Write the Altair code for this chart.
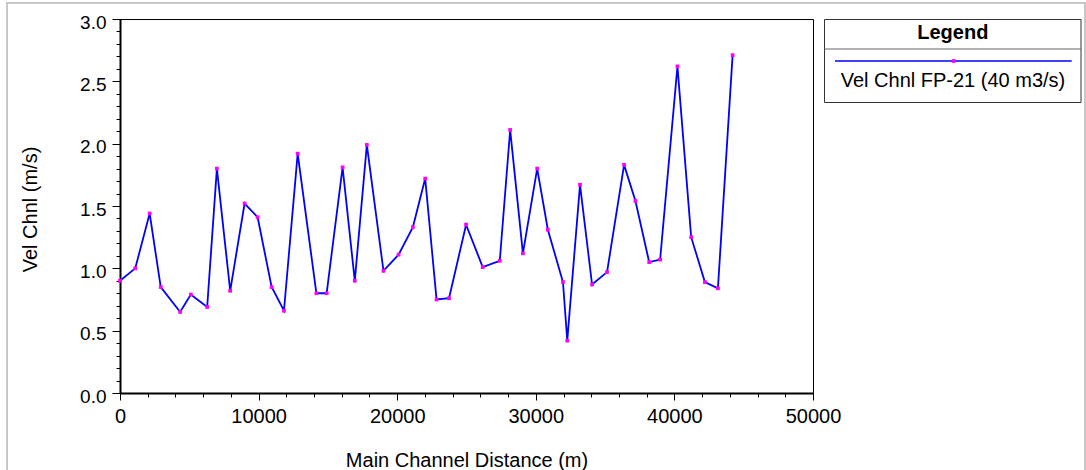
import altair as alt
import pandas as pd

# ---- data ----
distance = [0, 1100, 2140, 2940, 4340, 5110, 6290, 6990, 7950, 8990,
            9930, 10940, 11830, 12820, 14170, 14910, 16060, 16940, 17810, 19010,
            20100, 21130, 22020, 22840, 23740, 24970, 26170, 27400, 28150, 29070,
            30100, 30870, 31960, 32270, 33190, 34060, 35140, 36370, 37190, 38180,
            38970, 40220, 41210, 42200, 43140, 44200]
velocity = [0.90, 1.00, 1.44, 0.85, 0.65, 0.79, 0.69, 1.80, 0.82, 1.52,
            1.41, 0.85, 0.66, 1.92, 0.80, 0.80, 1.81, 0.90, 1.99, 0.98,
            1.11, 1.33, 1.72, 0.75, 0.76, 1.35, 1.01, 1.06, 2.11, 1.12,
            1.80, 1.31, 0.89, 0.42, 1.67, 0.87, 0.97, 1.83, 1.54, 1.05,
            1.07, 2.62, 1.25, 0.89, 0.84, 2.71]
series_name = "Vel Chnl FP-21 (40 m3/s)"
legend_title = "Legend"
x_title = "Main Channel Distance (m)"
y_title = "Vel Chnl (m/s)"
x_ticks = list(range(0, 50001, 2000))
y_ticks = [round(i * 0.1, 1) for i in range(31)]

FONT = "Liberation Sans"
W, H = 693, 374

df = pd.DataFrame({"distance": distance, "velocity": velocity})
leg = pd.DataFrame({"label": [series_name], "title": [legend_title]})

x_scale = alt.Scale(domain=[0, 50000], nice=False, zero=False)
y_scale = alt.Scale(domain=[0, 3], nice=False)

x_axis = alt.Axis(
    title=x_title, values=x_ticks, tickCount=500, grid=False,
    labelExpr="datum.value % 10000 == 0 ? format(datum.value, 'd') : ''",
    tickSize={"condition": {"test": "datum.value % 10000 == 0", "value": 7}, "value": 4},
    labelOverlap=False, labelFlush=False, labelFont=FONT, labelFontSize=20,
    labelColor="black", labelPadding=6,
    domainColor="black", domainWidth=2, tickColor="black", tickWidth=1,
    titleFont=FONT, titleFontSize=20, titleFontWeight="normal", titleColor="black",
    titleX=W / 2, titleY=73, titleAlign="center", titleBaseline="alphabetic",
)
y_axis = alt.Axis(
    title=y_title, values=y_ticks, tickCount=500, grid=False,
    labelExpr="abs(datum.value * 2 - round(datum.value * 2)) < 0.001 ? format(datum.value, '.1f') : ''",
    tickSize={"condition": {"test": "abs(datum.value * 2 - round(datum.value * 2)) < 0.001", "value": 8}, "value": 4},
    labelOverlap=False, labelFlush=False, labelFont=FONT, labelFontSize=19,
    labelColor="black", labelPadding=6, labelBaseline="middle", labelOffset=3,
    domainColor="black", domainWidth=2, tickColor="black", tickWidth=1,
    titleFont=FONT, titleFontSize=20, titleFontWeight="normal", titleColor="black",
    titleAngle=270, titleX=-90, titleY=H / 2 + 3, titleAlign="center", titleBaseline="middle",
)

base = alt.Chart(df)
line = base.mark_line(color="#0000FF", strokeWidth=1.8).encode(
    x=alt.X("distance:Q", scale=x_scale, axis=x_axis),
    y=alt.Y("velocity:Q", scale=y_scale, axis=y_axis),
)
pts = base.mark_point(shape="square", filled=True, color="#FF00FF", size=14, opacity=1).encode(
    x=alt.X("distance:Q", scale=x_scale),
    y=alt.Y("velocity:Q", scale=y_scale),
)

lb = alt.Chart(leg)
outer = lb.mark_rect(filled=False, stroke="#c8c8c8", strokeWidth=2).encode(
    x=alt.value(-113), x2=alt.value(965), y=alt.value(-16), y2=alt.value(480))
box = lb.mark_rect(fill="white", stroke="#333333", strokeWidth=1).encode(
    x=alt.value(704.5), x2=alt.value(961), y=alt.value(0.5), y2=alt.value(83.5))
divider = lb.mark_rule(color="#666666", strokeWidth=1).encode(
    x=alt.value(704.5), x2=alt.value(961), y=alt.value(30), y2=alt.value(30))
leg_line = lb.mark_rule(color="#0000FF", strokeWidth=1.5).encode(
    x=alt.value(715), x2=alt.value(951.7), y=alt.value(42), y2=alt.value(42))
leg_pt = lb.mark_point(shape="square", filled=True, color="#FF00FF", size=14, opacity=1).encode(
    x=alt.value(833.7), y=alt.value(42))
leg_title = lb.mark_text(font=FONT, fontSize=20, fontWeight="bold", color="black",
                         align="center", baseline="alphabetic").encode(
    x=alt.value(832.8), y=alt.value(20), text="title:N")
leg_label = lb.mark_text(font=FONT, fontSize=20, color="black",
                         align="center", baseline="alphabetic").encode(
    x=alt.value(833), y=alt.value(68), text="label:N")

chart = alt.layer(outer, line, pts, box, divider, leg_line, leg_pt, leg_title, leg_label).properties(
    width=W, height=H,
    autosize=alt.AutoSizeParams(type="none"),
    padding={"left": 120, "top": 19, "right": 1086 - 120 - W, "bottom": 470 - 19 - H},
    background="white",
).configure_view(stroke="black", strokeWidth=1)

chart.save("out.html", embed_options={"renderer": "svg", "actions": False})
